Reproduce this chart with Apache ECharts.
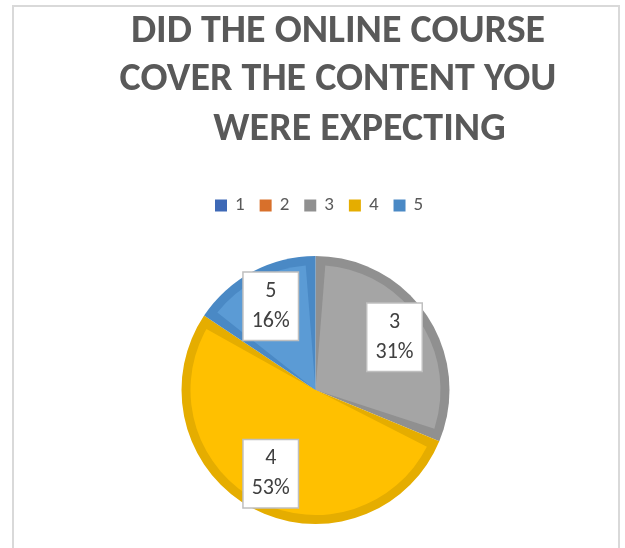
<!DOCTYPE html>
<html>
<head>
<meta charset="utf-8">
<script src="https://cdn.jsdelivr.net/npm/echarts@6/dist/echarts.min.js"></script>
<style>
html, body { margin: 0; padding: 0; background: #fff; }
body { position: relative; width: 625px; height: 548px; overflow: hidden; }
/* 外框 */
.frame {
  position: absolute; left: 12px; top: 5px;
  width: 604px; height: 600px;
  border: 2px solid #d9d9d9;
}
#chart { position: absolute; left: 0; top: 0; width: 625px; height: 548px; }
</style>
</head>
<body>
<div class="frame"></div>
<div id="chart"></div>
<script>
// 数据
const categories = ['1', '2', '3', '4', '5'];
const counts = [0, 0, 10, 17, 5];
const fillColors = ['#4472c4', '#ed7d31', '#a5a5a5', '#ffc000', '#5b9bd5'];
const edgeColors = ['#3e69b6', '#d8702b', '#909090', '#e5ad00', '#4a89c5'];
const titleTop = 'DID THE ONLINE COURSE\nCOVER THE CONTENT YOU';
const titleBottom = 'WERE EXPECTING';

const font = "Carlito, Lato, 'Open Sans', sans-serif";
const pieCenter = [315.5, 390];

// 底层：深色（边框色）
const edgeData = categories.map((name, i) => ({
  name: name,
  value: counts[i],
  itemStyle: { color: edgeColors[i] }
}));

// 上层：浅色填充，去掉 0 值，否则 padAngle 会挤占角度
const fillData = categories
  .map((name, i) => ({ name: name, value: counts[i], itemStyle: { color: fillColors[i] } }))
  .filter(d => d.value > 0);

// 标签层
const labelData = categories
  .map((name, i) => ({ name: name, value: counts[i] }))
  .filter(d => d.value > 0);

const titleStyle = { fontFamily: font, fontSize: 40, fontWeight: 'bold', color: '#595959', lineHeight: 48 };

let myChart = echarts.init(document.getElementById('chart'));
let option = {
  animation: false,
  title: [
    {
      text: titleTop,
      left: 338,
      top: 8,
      padding: 0,
      textAlign: 'center',
      textStyle: titleStyle
    },
    {
      text: titleBottom,
      left: 359.5,
      top: 106,
      padding: 0,
      textAlign: 'center',
      textStyle: titleStyle
    }
  ],
  legend: {
    data: categories,
    left: 215,
    top: 196,
    padding: 0,
    icon: 'rect',
    itemWidth: 12,
    itemHeight: 12,
    itemGap: 15,
    selectedMode: false,
    textStyle: { fontFamily: font, fontSize: 19, color: '#595959', padding: [0, 0, 0, 3] }
  },
  series: [
    {
      name: 'edge',
      type: 'pie',
      center: pieCenter,
      radius: 134,
      startAngle: 90,
      silent: true,
      label: { show: false },
      labelLine: { show: false },
      emphasis: { disabled: true },
      data: edgeData
    },
    {
      name: 'fill',
      type: 'pie',
      center: pieCenter,
      radius: 125,
      startAngle: 90,
      padAngle: 9,
      silent: true,
      label: { show: false },
      labelLine: { show: false },
      emphasis: { disabled: true },
      data: fillData
    },
    {
      name: 'labels',
      type: 'pie',
      center: pieCenter,
      radius: [50, 134],
      startAngle: 90,
      silent: true,
      percentPrecision: 0,
      itemStyle: { color: 'rgba(0,0,0,0)' },
      emphasis: { disabled: true },
      labelLine: { show: false },
      label: {
        show: true,
        position: 'inside',
        formatter: '{b}\n{d}%',
        fontFamily: font,
        fontSize: 22,
        lineHeight: 30,
        color: '#404040',
        backgroundColor: '#fff',
        borderColor: '#bfbfbf',
        borderWidth: 1.5,
        padding: [4, 8, 3, 8]
      },
      data: labelData
    }
  ]
};
option && myChart.setOption(option);
</script>
</body>
</html>
